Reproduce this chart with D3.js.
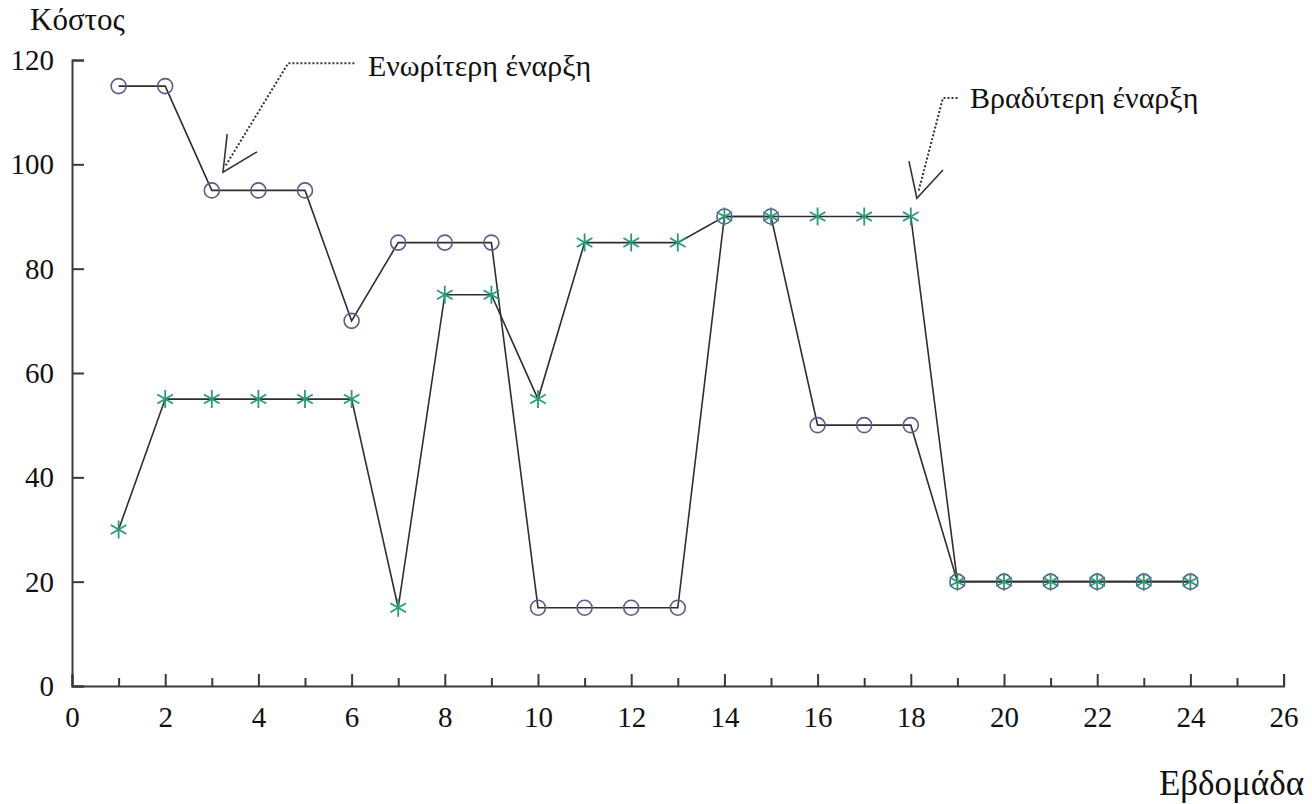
<!DOCTYPE html>
<html><head><meta charset="utf-8">
<script src="https://cdn.jsdelivr.net/npm/d3@7"></script>
<style>body{margin:0;background:#fff} svg text{font-family:"Liberation Serif","DejaVu Serif",serif !important;}</style>
</head><body><svg id="c" width="1312" height="804"></svg>
<script>
const weeks = d3.range(1, 25);
const earlyStart = [115,115,95,95,95,70,85,85,85,15,15,15,15,90,90,50,50,50,20,20,20,20,20,20];
const lateStart  = [30,55,55,55,55,55,15,75,75,55,85,85,85,90,90,90,90,90,20,20,20,20,20,20];
const xTicks = d3.range(0, 27, 2);
const xMinor = d3.range(1, 26, 2);
const yTicks = [0,20,40,60,80,100,120];
const yTitle = "Κόστος", xTitle = "Εβδομάδα";
const ann1 = {text:"Ενωρίτερη έναρξη", tip:[3.24,98.5], arms:[[3.33,105.8],[3.97,102.4]], path:[[3.3,99.8],[4.64,119.4],[6.07,119.4]], textPos:[6.35,116.9]};
const ann2 = {text:"Βραδύτερη έναρξη", tip:[18.13,93.5], arms:[[17.96,100.6],[18.69,98.9]], path:[[18.17,95],[18.69,112.7],[19.01,112.7]], textPos:[19.27,110.8]};

const svg = d3.select("#c");
const x = d3.scaleLinear().domain([0,26]).range([72,1283.6]);
const y = d3.scaleLinear().domain([0,120]).range([686,60]);
const axisColor = "#3a3a3a";

const gx = svg.append("g").attr("transform",`translate(0,${y(0)})`);
gx.call(d3.axisBottom(x).tickValues(xTicks).tickSize(-12).tickPadding(20).tickFormat(d3.format("d")));
const gxm = svg.append("g").attr("transform",`translate(0,${y(0)})`);
gxm.call(d3.axisBottom(x).tickValues(xMinor).tickSize(-8).tickFormat(""));
gxm.select(".domain").remove();
const gy = svg.append("g").attr("transform",`translate(${x(0)},0)`);
gy.call(d3.axisLeft(y).tickValues(yTicks).tickSize(-12).tickPadding(18).tickFormat(d3.format("d")));
svg.selectAll("g").attr("font-family",null);
svg.selectAll(".domain").attr("stroke",axisColor).attr("stroke-width",2);
svg.selectAll(".tick line").attr("stroke",axisColor).attr("stroke-width",2);
svg.selectAll(".tick text").attr("font-size",29).attr("fill","#111");
gx.selectAll(".tick text").attr("dy","0.71em");
gy.selectAll(".tick text").attr("dy","0.33em");

svg.append("text").attr("x",30).attr("y",30).attr("font-size",31).attr("fill","#111").text(yTitle);
svg.append("text").attr("x",1304).attr("y",795).attr("font-size",35).attr("fill","#111").attr("text-anchor","end").text(xTitle);

const line = d3.line().x((d,i)=>x(weeks[i])).y(d=>y(d));
svg.append("path").datum(earlyStart).attr("d",line).attr("fill","none").attr("stroke","#2e2e2e").attr("stroke-width",1.6);
svg.append("path").datum(lateStart).attr("d",line).attr("fill","none").attr("stroke","#2e2e2e").attr("stroke-width",1.6);

svg.append("g").selectAll("circle").data(earlyStart).join("circle")
  .attr("cx",(d,i)=>x(weeks[i])).attr("cy",d=>y(d)).attr("r",7.5)
  .attr("fill","none").attr("stroke","#5c5a8e").attr("stroke-width",1.6);

const starR = 9;
const starPath = d3.range(3).map(k=>{const a=Math.PI/2+k*Math.PI/3;const dx=starR*Math.cos(a),dy=starR*Math.sin(a);return `M${-dx},${-dy}L${dx},${dy}`;}).join("");
svg.append("g").selectAll("path").data(lateStart).join("path")
  .attr("transform",(d,i)=>`translate(${x(weeks[i])},${y(d)})`)
  .attr("d",starPath).attr("fill","none").attr("stroke","#2a9a78").attr("stroke-width",1.8);

function annotate(a){
  const g = svg.append("g");
  g.append("path").attr("d",d3.line()(a.path.map(p=>[x(p[0]),y(p[1])])))
    .attr("fill","none").attr("stroke","#333").attr("stroke-width",2).attr("stroke-dasharray","2,2");
  g.append("path").attr("d",d3.line()([[x(a.arms[0][0]),y(a.arms[0][1])],[x(a.tip[0]),y(a.tip[1])],[x(a.arms[1][0]),y(a.arms[1][1])]]))
    .attr("fill","none").attr("stroke","#333").attr("stroke-width",1.6);
  g.append("text").attr("x",x(a.textPos[0])).attr("y",y(a.textPos[1])).attr("font-size",30).attr("fill","#111").text(a.text);
}
annotate(ann1); annotate(ann2);
</script></body></html>
